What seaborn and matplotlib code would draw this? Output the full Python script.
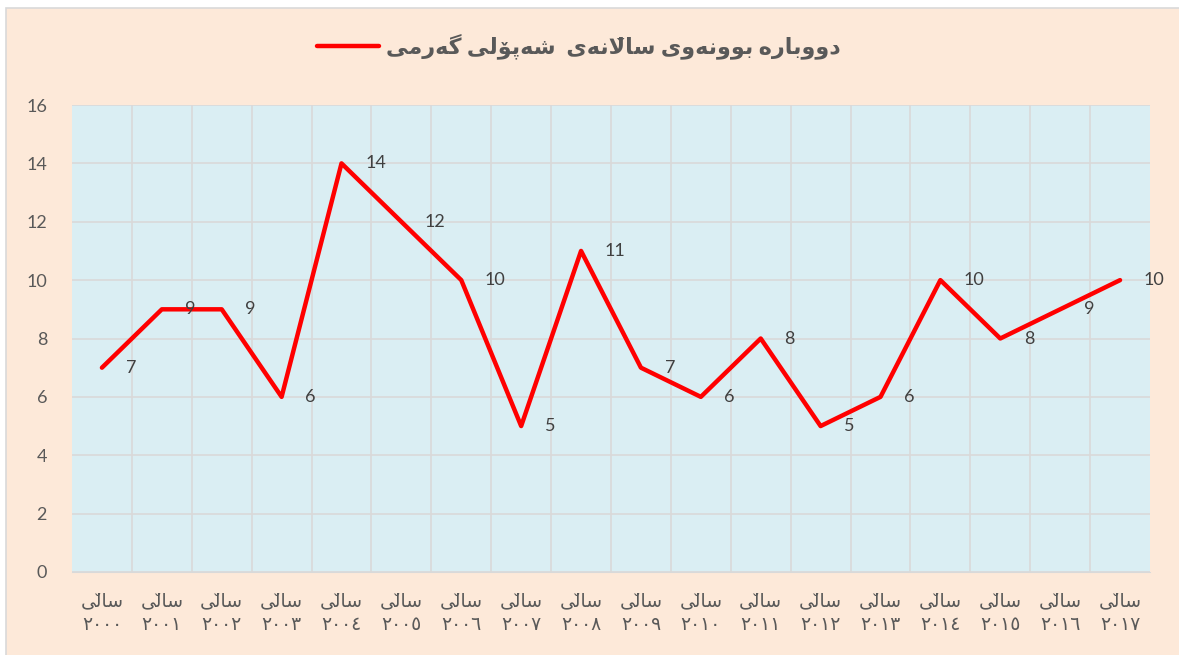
import pandas as pd
import seaborn as sns
import matplotlib.pyplot as plt
from matplotlib.patches import Rectangle

years = ["٢٠٠٠", "٢٠٠١", "٢٠٠٢", "٢٠٠٣", "٢٠٠٤", "٢٠٠٥", "٢٠٠٦", "٢٠٠٧", "٢٠٠٨",
         "٢٠٠٩", "٢٠١٠", "٢٠١١", "٢٠١٢", "٢٠١٣", "٢٠١٤", "٢٠١٥", "٢٠١٦", "٢٠١٧"]
values = [7, 9, 9, 6, 14, 12, 10, 5, 11, 7, 6, 8, 5, 6, 10, 8, 9, 10]
year_word = "ساڵی"
series_name = "دووبارە بوونەوی ساڵانەی  شەپۆلی گەرمی"
y_ticks = [0, 2, 4, 6, 8, 10, 12, 14, 16]

# minimal arabic shaping, matplotlib has no bidi / joining support
FORMS = {  # iso, fin, ini, med
    "ب": ("\uFE8F", "\uFE90", "\uFE91", "\uFE92"),
    "س": ("\uFEB1", "\uFEB2", "\uFEB3", "\uFEB4"),
    "ش": ("\uFEB5", "\uFEB6", "\uFEB7", "\uFEB8"),
    "ل": ("\uFEDD", "\uFEDE", "\uFEDF", "\uFEE0"),
    "ڵ": ("\uFEDD", "\uFEDE", "\uFEDF", "\uFEE0"),
    "م": ("\uFEE1", "\uFEE2", "\uFEE3", "\uFEE4"),
    "ن": ("\uFEE5", "\uFEE6", "\uFEE7", "\uFEE8"),
    "پ": ("\uFB56", "\uFB57", "\uFB58", "\uFB59"),
    "گ": ("\uFB92", "\uFB93", "\uFB94", "\uFB95"),
    "ی": ("\uFBFC", "\uFBFD", "\uFBFE", "\uFBFF"),
    "ا": ("\uFE8D", "\uFE8E"),
    "د": ("\uFEA9", "\uFEAA"),
    "ر": ("\uFEAD", "\uFEAE"),
    "و": ("\uFEED", "\uFEEE"),
    "ە": ("\u06D5", "\uFEEA"),
    "ۆ": ("\uFBD9", "\uFBDA"),
}
V_ABOVE = "\u030C"  # zero-width caron stands in for the small v of ڵ


def shape(text):
    chars = list(text)
    glyphs = []
    i = 0
    while i < len(chars):
        c = chars[i]
        if c not in FORMS:
            glyphs.append(c)
            i += 1
            continue
        prev = chars[i - 1] if i > 0 else ""
        joins_prev = prev in FORMS and len(FORMS[prev]) == 4
        nxt = chars[i + 1] if i + 1 < len(chars) else ""
        if c in "لڵ" and nxt == "ا":
            g = "\uFEFC" if joins_prev else "\uFEFB"
            if c == "ڵ":
                g += V_ABOVE
            glyphs.append(g)
            i += 2
            continue
        f = FORMS[c]
        joins_next = len(f) == 4 and nxt in FORMS
        if joins_prev and joins_next:
            g = f[3]
        elif joins_prev:
            g = f[1]
        elif joins_next:
            g = f[2]
        else:
            g = f[0]
        if c == "ڵ":
            g += V_ABOVE
        glyphs.append(g)
        i += 1
    # visual order: reverse glyph clusters
    return "".join(reversed(glyphs))


sns.set_style("white")
plt.rcParams["font.family"] = ["Lato", "DejaVu Sans"]

grey = "#595959"
df = pd.DataFrame({"pos": range(len(values)), "value": values})

fig = plt.figure(figsize=(11.79, 6.55), dpi=100, facecolor="white")
fig.patches.append(Rectangle((6 / 1179, -0.01), 1.0, 1 - 8 / 655 + 0.01,
                             transform=fig.transFigure, facecolor="#FDE9D9",
                             edgecolor="#D9D9D9", linewidth=1.2, zorder=-1))
ax = fig.add_axes([72 / 1179, 1 - 572 / 655, (1150 - 72) / 1179, (572 - 105) / 655])
ax.set_facecolor("#DAEEF3")

sns.lineplot(data=df, x="pos", y="value", ax=ax, color="#FF0000", linewidth=3.2,
             label=shape(series_name), legend=False)

for x, v in zip(df["pos"], df["value"]):
    ax.annotate(str(v), (x, v), xytext=(17, 0), textcoords="offset points",
                ha="left", va="center", fontsize=13, color="#404040")

ax.set_xlim(-0.5, len(values) - 0.5)
ax.set_ylim(0, 16)
ax.set_yticks(y_ticks)
ax.set_xticks(range(len(years)))
ax.set_xticklabels([shape(year_word) + "\n" + y for y in years], fontsize=13.5, color=grey,
                   linespacing=1.45)
ax.set_xticks([i + 0.5 for i in range(len(years) - 1)], minor=True)
ax.tick_params(axis="y", labelsize=13, labelcolor=grey, length=0, pad=18)
ax.tick_params(axis="x", length=0, pad=15)
ax.tick_params(axis="x", which="minor", length=0)
ax.grid(axis="y", color="#D9D9D9", linewidth=1.2)
ax.grid(axis="x", which="minor", color="#D9D9D9", linewidth=1.2)
ax.set_axisbelow(True)
for s in ax.spines.values():
    s.set_visible(False)
ax.spines["bottom"].set_visible(True)
ax.spines["bottom"].set_color("#D9D9D9")
ax.set_xlabel("")
ax.set_ylabel("")

handles, labels = ax.get_legend_handles_labels()
fig.legend(handles, labels, loc="center", bbox_to_anchor=(0.491, 0.929), frameon=False,
           handlelength=2.8, handletextpad=0.3,
           prop={"size": 16, "weight": "bold"}, labelcolor=grey)

fig.savefig("out.png", dpi=100, facecolor=fig.get_facecolor())
